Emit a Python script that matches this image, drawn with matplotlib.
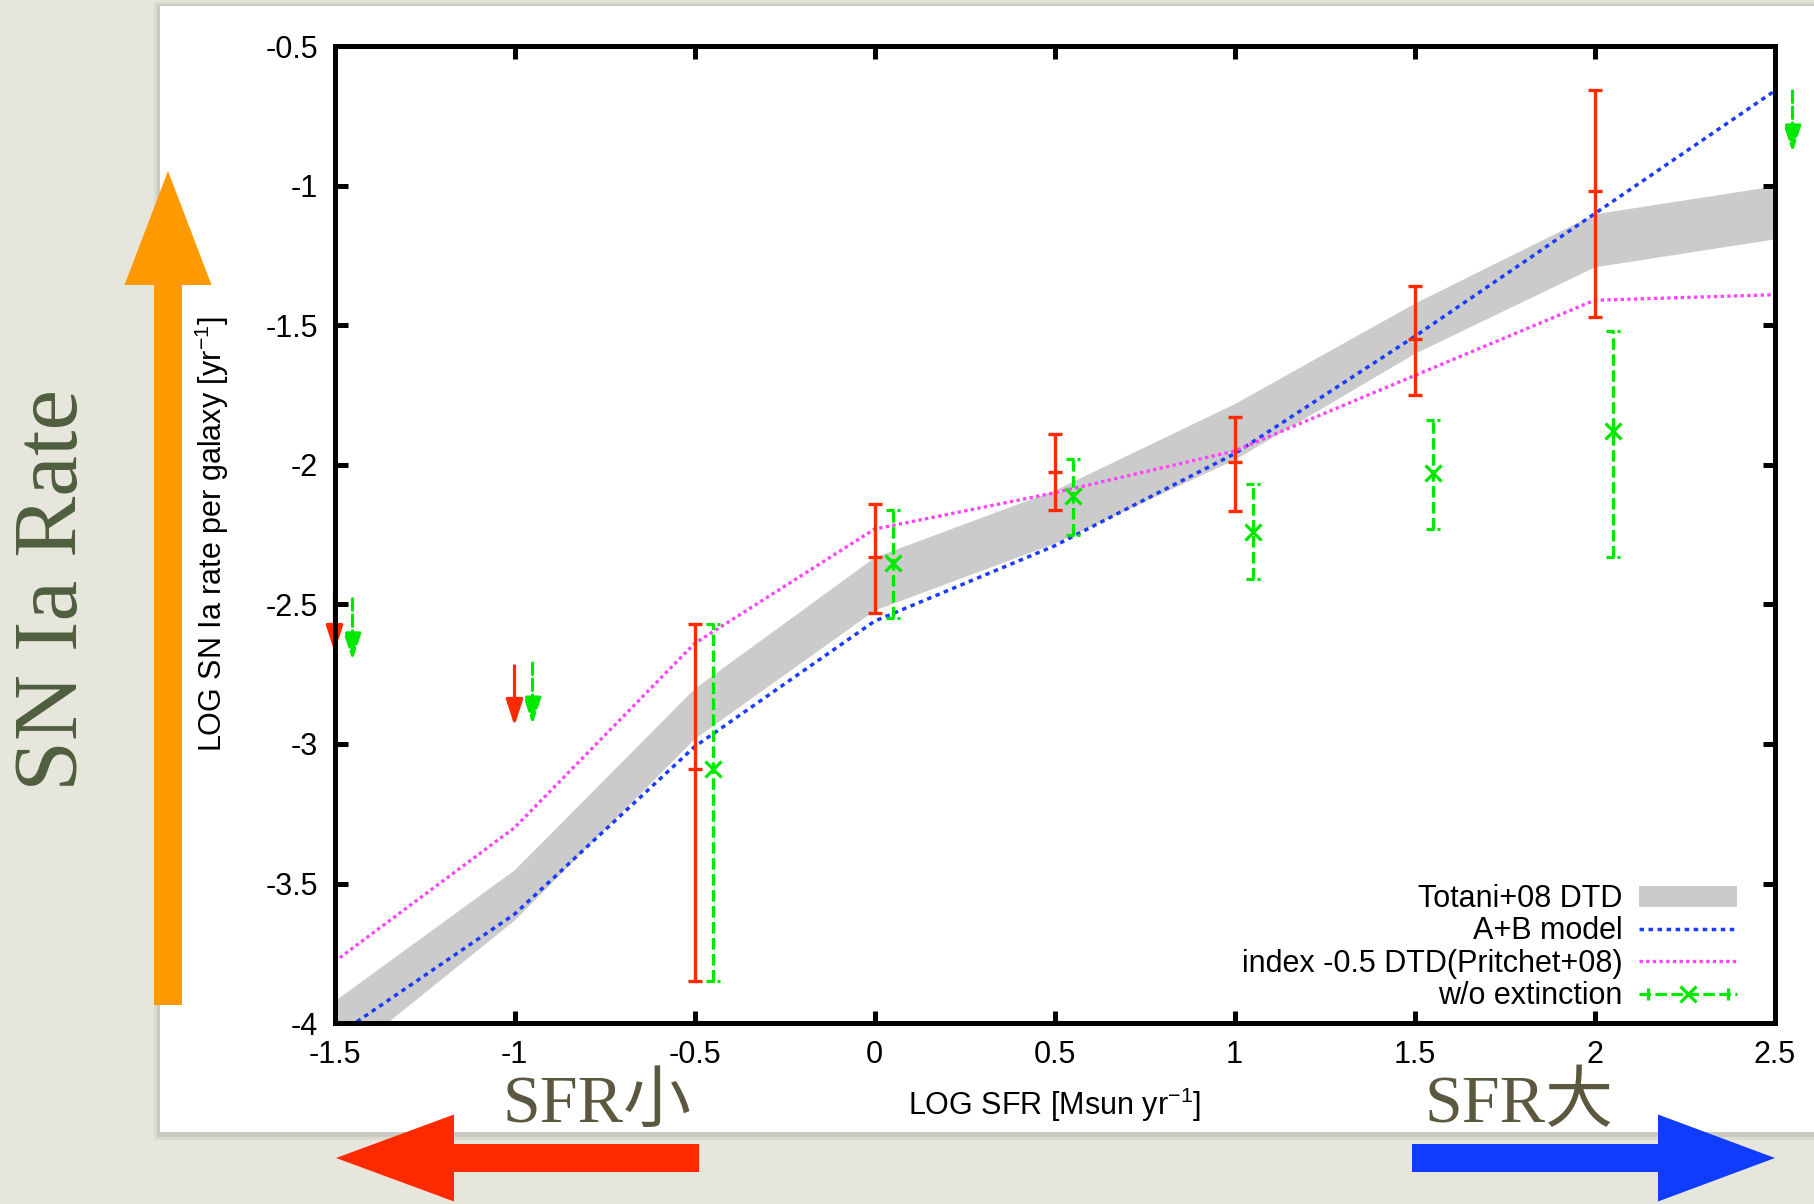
import matplotlib.pyplot as plt
from matplotlib.patches import Rectangle, FancyArrow, Patch
from matplotlib.lines import Line2D
from matplotlib.legend_handler import HandlerLine2D
from matplotlib.path import Path

plt.rcParams['font.family'] = ['Liberation Sans', 'DejaVu Sans']
plt.rcParams['mathtext.default'] = 'regular'
plt.rcParams['axes.unicode_minus'] = False

# model curves (LOG SFR grid)
model_x = [-1.5, -1.0, -0.5, 0.0, 0.5, 1.0, 1.5, 2.0, 2.5]
totani_upper = [-3.92, -3.45, -2.80, -2.33, -2.09, -1.78, -1.42, -1.10, -1.00]
totani_lower = [-4.15, -3.63, -2.98, -2.52, -2.28, -1.98, -1.60, -1.29, -1.19]
ab_model = [-4.05, -3.61, -3.01, -2.56, -2.29, -1.96, -1.54, -1.10, -0.66]
pritchet = [-3.78, -3.30, -2.64, -2.23, -2.10, -1.95, -1.68, -1.41, -1.39]

# measured rates
obs_x = [-0.5, 0.0, 0.5, 1.0, 1.5, 2.0]
obs_y = [-3.09, -2.33, -2.025, -1.99, -1.55, -1.02]
obs_lo = [-3.85, -2.53, -2.16, -2.165, -1.75, -1.47]
obs_hi = [-2.57, -2.14, -1.89, -1.83, -1.36, -0.655]

# rates without extinction correction
noext_x = [-0.45, 0.05, 0.55, 1.05, 1.55, 2.05]
noext_y = [-3.09, -2.35, -2.11, -2.24, -2.03, -1.88]
noext_lo = [-3.85, -2.55, -2.25, -2.41, -2.23, -2.33]
noext_hi = [-2.57, -2.16, -1.98, -2.07, -1.84, -1.52]

# upper limits (arrow start -> arrow tip)
ul_x = [-1.5, -1.0]
ul_from = [-2.45, -2.72]
ul_to = [-2.67, -2.935]
noext_ul_x = [-1.45, -0.95, 2.55]
noext_ul_from = [-2.48, -2.71, -0.66]
noext_ul_to = [-2.70, -2.93, -0.88]

xticks = [-1.5, -1.0, -0.5, 0.0, 0.5, 1.0, 1.5, 2.0, 2.5]
xtick_labels = ['-1.5', '-1', '-0.5', '0', '0.5', '1', '1.5', '2', '2.5']
yticks = [-0.5, -1.0, -1.5, -2.0, -2.5, -3.0, -3.5, -4.0]
ytick_labels = ['-0.5', '-1', '-1.5', '-2', '-2.5', '-3', '-3.5', '-4']

red = '#ff2a00'
green = '#00e800'
blue = '#1a3cff'
magenta = '#ff44ff'
grey = '#cbcbcb'

fig = plt.figure(figsize=(18.15, 12.04), dpi=100, facecolor='#e7e6dd')

# slide decoration layer in pixel coordinates
bg = fig.add_axes([0, 0, 1, 1], zorder=0)
bg.set_xlim(0, 1815)
bg.set_ylim(1204, 0)
bg.axis('off')
bg.add_patch(Rectangle((154, 2), 1700, 1138, fc='black', alpha=0.05, lw=0))
bg.add_patch(Rectangle((157, 4), 1700, 1133, fc='black', alpha=0.07, lw=0))
bg.add_patch(Rectangle((160, 6), 1700, 1126, fc='white', lw=0))

bg.add_patch(FancyArrow(168, 1005, 0, 171 - 1005, width=28, head_width=87,
                        head_length=114, length_includes_head=True,
                        fc='#ff9900', ec='none', zorder=3))
bg.add_patch(FancyArrow(699, 1158, 336 - 699, 0, width=28, head_width=87,
                        head_length=118, length_includes_head=True,
                        fc=red, ec='none', zorder=3))
bg.add_patch(FancyArrow(1412, 1158, 1775 - 1412, 0, width=28, head_width=87,
                        head_length=117, length_includes_head=True,
                        fc='#0f3cff', ec='none', zorder=3))

bg.text(55, 590, 'SN Ia Rate', rotation=90, ha='center', va='center',
        fontsize=66, family='Liberation Serif', color='#4e5e3e')
cjk = ['Liberation Serif', 'Noto Sans CJK JP']
bg.text(597, 1122, 'SFR小', ha='center', va='baseline', fontsize=49,
        family=cjk, color='#5c573f')
bg.text(1519, 1122, 'SFR大', ha='center', va='baseline', fontsize=49,
        family=cjk, color='#5c573f')

# the plot itself
ax = fig.add_axes([0.1843, 0.1503, 0.7934, 0.8112], zorder=1)

ax.fill_between(model_x, totani_lower, totani_upper, color=grey, lw=0, zorder=1)
ax.plot(model_x, ab_model, color=blue, lw=2.5, ls=(0, (1.3, 1.3)), zorder=1.5)
ax.plot(model_x, pritchet, color=magenta, lw=2.4, ls=(0, (1, 1)), zorder=1.5)

err = [[y - lo for y, lo in zip(obs_y, obs_lo)],
       [hi - y for y, hi in zip(obs_y, obs_hi)]]
ax.errorbar(obs_x, obs_y, yerr=err, fmt='_', color=red, ms=9.5, mew=2.4,
            elinewidth=2.4, capsize=4.7, capthick=2.4, zorder=3)

err = [[y - lo for y, lo in zip(noext_y, noext_lo)],
       [hi - y for y, hi in zip(noext_y, noext_hi)]]
line, caps, bars = ax.errorbar(noext_x, noext_y, yerr=err, fmt='x', color=green,
                               ms=11, mew=2.3, elinewidth=2.3, capsize=4.7,
                               capthick=2.3, zorder=3)
bars[0].set_linestyle((0, (3.6, 1.4)))
# dashed-looking caps like the gnuplot ones
cap_path = Path([(-1, 0), (0.15, 0), (0.6, 0), (1, 0)],
                [Path.MOVETO, Path.LINETO, Path.MOVETO, Path.LINETO])
for c in caps:
    c.set_marker(cap_path)

head = '-|>,head_length=0.8,head_width=0.26'
for x, y0, y1 in zip(ul_x, ul_from, ul_to):
    ax.annotate('', xy=(x, y1), xytext=(x, y0), annotation_clip=False, zorder=2,
                arrowprops=dict(arrowstyle=head, color=red, lw=2.3,
                                shrinkA=0, shrinkB=0, mutation_scale=20))
for x, y0, y1 in zip(noext_ul_x, noext_ul_from, noext_ul_to):
    ax.annotate('', xy=(x, y1), xytext=(x, y0), annotation_clip=False, zorder=2,
                arrowprops=dict(arrowstyle=head, color=green, lw=2.3,
                                ls=(0, (3.6, 1.4)), shrinkA=0, shrinkB=0,
                                mutation_scale=20))

ax.set_xlim(-1.5, 2.5)
ax.set_ylim(-4, -0.5)
ax.set_xticks(xticks, xtick_labels)
ax.set_yticks(yticks, ytick_labels)
ax.tick_params(direction='in', length=9, width=3.6, labelsize=22,
               top=True, right=True, pad=12, colors='black')
for s in ax.spines.values():
    s.set_linewidth(3.6)

ax.set_xlabel('LOG SFR [Msun yr$^{-1}$]', fontsize=22)
ax.set_ylabel('LOG SN Ia rate per galaxy [yr$^{-1}$]', fontsize=22)
ax.xaxis.label.set_va('center')
ax.yaxis.label.set_va('center')
ax.xaxis.set_label_coords(0.5, -0.084)
ax.yaxis.set_label_coords(-0.085, 0.5)

# legend, gnuplot style (label first, sample on the right)
h_band = Patch(facecolor=grey, edgecolor='none')
h_ab = Line2D([], [], color=blue, lw=2.5, ls=(0, (1.3, 1.3)))
h_pr = Line2D([], [], color=magenta, lw=2.4, ls=(0, (1, 1)))
h_ne = Line2D([], [], color=green, lw=2.3, ls=(0, (3.6, 1.4)), marker='x',
              ms=11, mew=2.3)
h_ends = Line2D([], [], color=green, ls='none', marker='|', ms=9, mew=2.3)
ax.legend([h_band, h_ab, h_pr, (h_ne, h_ends)],
          ['Totani+08 DTD', 'A+B model', 'index -0.5 DTD(Pritchet+08)',
           'w/o extinction'],
          handler_map={h_ends: HandlerLine2D(numpoints=2)},
          loc='lower right', bbox_to_anchor=(0.974, 0.012), borderaxespad=0,
          borderpad=0, frameon=False, markerfirst=False, fontsize=22,
          handlelength=3.2, handletextpad=0.55, labelspacing=0.08)

fig.savefig('out.png', dpi=100, facecolor=fig.get_facecolor())
